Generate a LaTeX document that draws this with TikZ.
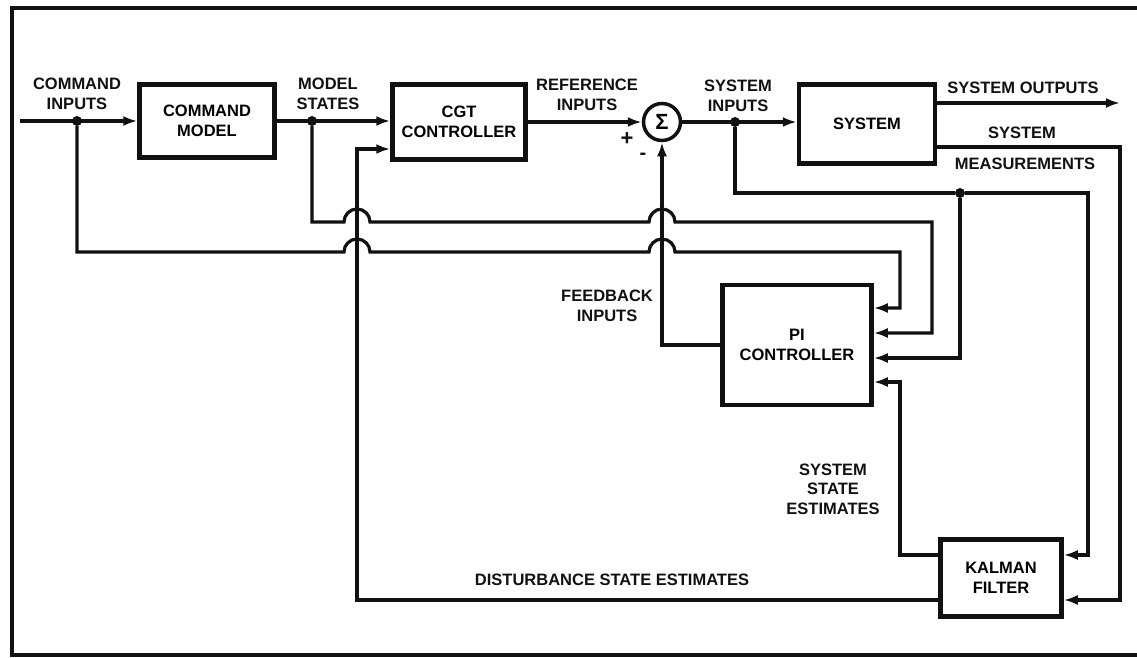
\documentclass[tikz,border=0pt]{standalone}
\usepackage{fontspec}
\setmainfont{Liberation Sans}
\usepackage{tikz}
\usepackage{xcolor}
\usetikzlibrary{arrows.meta,positioning,calc}
\definecolor{ink}{HTML}{111111}
\newcommand{\lblfont}{\bfseries\fontsize{16.5}{19.5}\selectfont}
\tikzset{
  block/.style={draw=ink,line width=4.5pt,align=center,inner sep=2pt,
                font=\lblfont},
  sumnode/.style={circle,draw=ink,line width=3.5pt,minimum size=37pt,
                  inner sep=0pt,font=\bfseries\fontsize{22}{22}\selectfont},
  junction/.style={circle,fill=ink,inner sep=0pt,minimum size=10pt},
  lbl/.style={align=center,inner sep=0pt,font=\lblfont,text=ink},
  frame/.style={line width=3.4pt,draw=ink},
  wire/.style={line width=3.2pt,draw=ink},
  arr/.style={-{Latex[length=14pt,width=10pt]},line width=3.2pt,draw=ink}
}

\begin{document}
\begin{tikzpicture}[x=1pt,y=-1pt]
    \useasboundingbox (0,0) rectangle (1137,658);
    \draw[frame] (1137,8) -- (12,8) -- (12,655) -- (1137,655);

    % blocks
    \node[block,minimum width=135pt,minimum height=73pt] (cmdmodel) at (207,121)
      {COMMAND\\MODEL};
    \node[block,minimum width=133pt,minimum height=75pt] (cgt) at (459,122)
      {CGT\\CONTROLLER};
    \node[sumnode] (sum) at (662,122) {Σ};
    \node[block,minimum width=136pt,minimum height=79pt] (system) at (867,124)
      {SYSTEM};
    \node[block,minimum width=149pt,minimum height=120pt] (pi) at (797,345)
      {PI\\CONTROLLER};
    \node[block,minimum width=121pt,minimum height=77pt] (kalman) at (1001,578)
      {KALMAN\\FILTER};

    % junctions
    \coordinate (cmdin) at (20,121);
    \coordinate (sysout) at (1120,103);
    \coordinate (measturn) at (1120,147);
    \node[junction] (cijoin) at (77,121) {};
    \node[junction] (msjoin) at (312,121) {};
    \node[junction] (sijoin) at (735,122) {};
    \node[junction] (sibranch) at (960,193) {};

    % forward path
    \draw[arr] (cmdin) -- (cmdmodel);
    \draw[arr] (cmdmodel) -- (cgt.west |- cmdmodel.east);
    \draw[arr] (cgt) -- (sum);
    \draw[arr] (sum) -- (system.west |- sum.east);
    \draw[arr] (system.east |- sysout) -- (sysout);
    \draw[arr] (system.east |- measturn) -- (measturn)
      |- ([yshift=-22pt]kalman.east);

    % command inputs and model states to PI (hops over the verticals)
    \draw[arr] (cijoin) -- (77,252) -- (344,252)
      arc[start angle=180,end angle=360,radius=13] -- (649,252)
      arc[start angle=180,end angle=360,radius=13] -- (900,252)
      |- ([yshift=37pt]pi.east);
    \draw[arr] (msjoin) -- (312,222) -- (344,222)
      arc[start angle=180,end angle=360,radius=13] -- (649,222)
      arc[start angle=180,end angle=360,radius=13] -- (932,222)
      |- ([yshift=12pt]pi.east);

    % system inputs
    \draw[wire] (sijoin) |- (sibranch);
    \draw[arr] (sibranch) -- (1088,193) |- ([yshift=23pt]kalman.east);
    \draw[arr] (sibranch) |- ([yshift=-13pt]pi.east);

    % feedback and estimates
    \draw[arr] (pi.west) -| (sum.south);
    \draw[arr] ([yshift=23pt]kalman.west) -- (900,555)
      |- ([yshift=-37pt]pi.east);
    \draw[arr] ([yshift=-22pt]kalman.west) -- (357,600)
      |- ([yshift=-27pt]cgt.west);

    % labels
    \node[lbl] (cilbl) at (77,94) {COMMAND\\INPUTS};
    \node[lbl] (mslbl) at (328,94) {MODEL\\STATES};
    \node[lbl] (rilbl) at (587,95) {REFERENCE\\INPUTS};
    \node[lbl] (silbl) at (738,96) {SYSTEM\\INPUTS};
    \node[lbl] (solbl) at (1023,88) {SYSTEM OUTPUTS};
    \node[lbl] (smlbl) at (1022,133) {SYSTEM};
    \node[lbl] (mmlbl) at (1025,164) {MEASUREMENTS};
    \node[lbl] (fblbl) at (607,306) {FEEDBACK\\INPUTS};
    \node[lbl] (sselbl) at (833,489) {SYSTEM\\STATE\\ESTIMATES};
    \node[lbl] (dselbl) at (612,580) {DISTURBANCE STATE ESTIMATES};
    \node[lbl,font=\bfseries\fontsize{22}{22}\selectfont] (plus) at (627,139) {+};
    \node[lbl,font=\bfseries\fontsize{20}{20}\selectfont] (minus) at (643,156) {-};
  \end{tikzpicture}
\end{document}
